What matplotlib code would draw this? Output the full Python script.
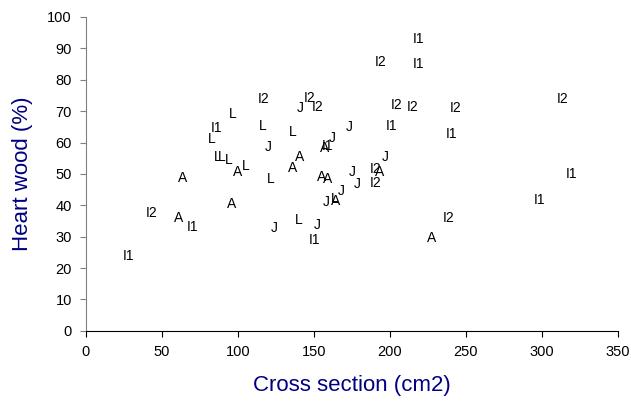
import matplotlib
matplotlib.use("Agg")
import matplotlib.pyplot as plt

plt.rcParams["font.family"] = ["Liberation Sans", "DejaVu Sans"]

# group labels drawn as the markers
labels = ["I1", "I2", "A", "I1", "A", "A", "I1", "L", "L",
          "L", "L", "L", "A", "L",
          "I1", "I2", "I1", "I2", "I2", "J", "I2", "I2", "I2",
          "L", "L", "J", "I1", "J", "A", "I1", "J",
          "A", "A", "L", "A", "A", "J", "J", "I2", "A", "J", "I2",
          "J", "L", "A", "J",
          "J", "L", "J", "I1",
          "I2", "I1", "I2", "I1", "I1", "I2", "A"]
cross_section = [28, 43, 61, 70, 64, 96, 86, 83, 97,
                 86.8, 89.5, 94, 100, 105,
                 219, 194, 218.6, 117, 147, 141, 152.4, 204.4, 215.3,
                 116.7, 136.4, 173, 200.9, 120, 157, 159, 162.3,
                 140.8, 136, 121.7, 155, 158.8, 175.4, 178.5, 190.8, 193.4, 196.7, 190.8,
                 157.9, 163.5, 164.5, 168.2,
                 123.7, 140.3, 152.2, 150.7,
                 243.4, 240.6, 314, 319.5, 298.2, 239, 227.4]
heart_wood = [24, 37.6, 36, 33, 48.7, 40.4, 64.6, 61, 69,
              55.5, 55.4, 54.5, 50.6, 52.5,
              92.9, 85.8, 84.9, 73.8, 74.3, 71.1, 71.2, 72.0, 71.2,
              65.1, 63.2, 64.9, 65.3, 58.7, 58.4, 59, 61.4,
              55.5, 52, 48.3, 49.1, 48.4, 50.7, 46.8, 51.6, 50.7, 55.5, 47.2,
              41.2, 42, 41.5, 44.4,
              32.9, 35.4, 33.8, 29.0,
              71.1, 62.7, 73.8, 49.9, 41.7, 35.9, 29.5]

fig = plt.figure(figsize=(6.31, 4.03), dpi=100)
ax = fig.add_axes([0.136, 0.179, 0.843, 0.779])

for lab, x, y in zip(labels, cross_section, heart_wood):
    ax.text(x, y, lab, ha="center", va="center", fontsize=10, color="black")

ax.set_xlim(0, 350)
ax.set_ylim(0, 100)
ax.set_xticks(range(0, 351, 50))
ax.set_yticks(range(0, 101, 10))
ax.spines["top"].set_visible(False)
ax.spines["right"].set_visible(False)
ax.spines["left"].set_color("#808080")
ax.spines["bottom"].set_color("black")
ax.tick_params(direction="out", length=4, labelsize=10.5, pad=6)
ax.tick_params(axis="y", colors="#808080", labelcolor="black")
ax.tick_params(axis="x", labelcolor="black")

ax.set_xlabel("Cross section (cm2)", fontsize=16, color="#000080", labelpad=12)
ax.set_ylabel("Heart wood (%)", fontsize=16, color="#000080", labelpad=10)

fig.savefig("out.png", dpi=100)
